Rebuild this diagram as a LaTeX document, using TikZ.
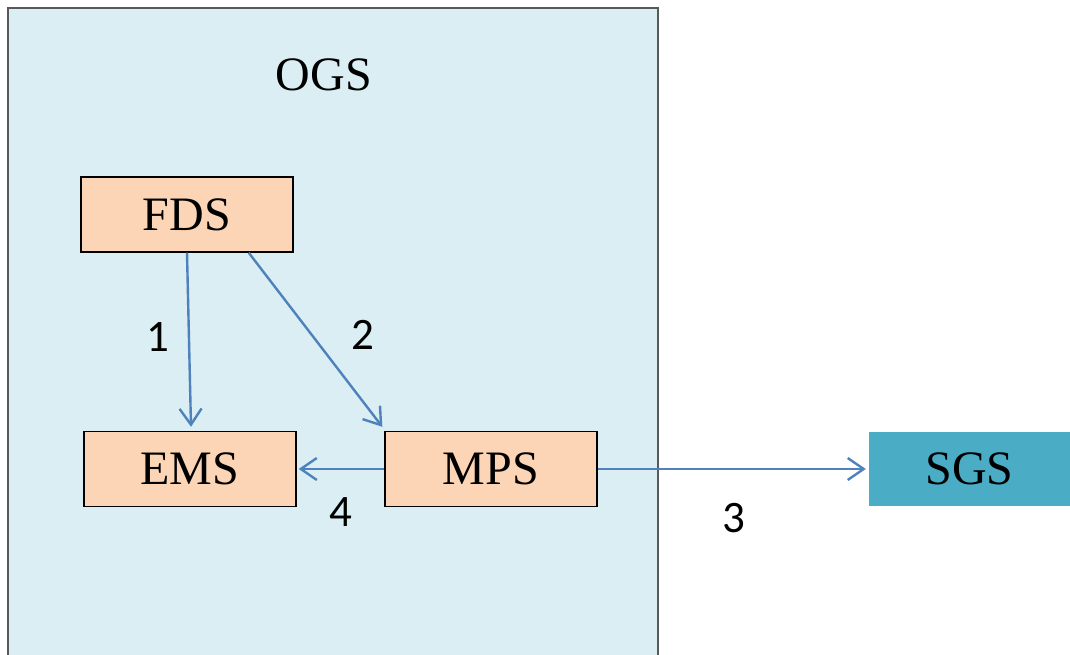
\documentclass[tikz,border=0pt]{standalone}
\usepackage{fontspec}
\setmainfont{Liberation Serif}
\newfontfamily\numfont{Carlito}
\usetikzlibrary{arrows.meta,calc}
\definecolor{ogsfill}{HTML}{DAEEF3}
\definecolor{boxfill}{HTML}{FBD5B5}
\definecolor{sgsfill}{HTML}{4BACC6}
\definecolor{linkblue}{HTML}{4F81BD}
\tikzset{
  sysbox/.style={draw=black, line width=1.4pt, fill=boxfill, minimum width=212pt,
    minimum height=75pt, inner sep=0pt, font=\fontsize{48}{48}\selectfont},
  extbox/.style={fill=sgsfill, minimum width=201pt, minimum height=74pt,
    inner sep=0pt, font=\fontsize{48}{48}\selectfont},
  link/.style={draw=linkblue, line width=2.4pt,
    -{Straight Barb[length=16pt,width=22pt,line width=2.4pt]}},
  steplabel/.style={font=\numfont\fontsize{45}{45}\selectfont, inner sep=0pt}
}
\begin{document}
\begin{tikzpicture}[x=1pt,y=1pt]
\useasboundingbox (0,0) rectangle (1070,655);
% operator-side container
\fill[ogsfill] (8,-10) rectangle (658,647);
\draw[line width=1.2pt, draw=black!65] (8,-10) -- (8,647) -- (658,647) -- (658,-10);
\node[font=\fontsize{48}{48}\selectfont, inner sep=0pt] (ogs) at (324,580) {OGS};
% subsystems
\node[sysbox] (fds) at (187,440.5) {FDS};
\node[sysbox] (ems) at (190,186) {EMS};
\node[sysbox] (mps) at (491,186) {MPS};
\node[extbox] (sgs) at (969.5,186) {SGS};
% information flows
\draw[link] (fds.south) -- ($(ems.north)+(1,4)$);
\draw[link] ($(fds.south east)+(-45,0)$) -- ($(mps.north west)+(-2,4)$);
\draw[link] (mps.west) -- ($(ems.east)+(2,0)$);
\draw[link] (mps.east) -- ($(sgs.west)+(-3,0)$);
% flow numbers
\node[steplabel] (n1) at (158,318) {1};
\node[steplabel] (n2) at (363,320) {2};
\node[steplabel] (n4) at (341,143) {4};
\node[steplabel] (n3) at (734,137) {3};
\end{tikzpicture}
\end{document}
